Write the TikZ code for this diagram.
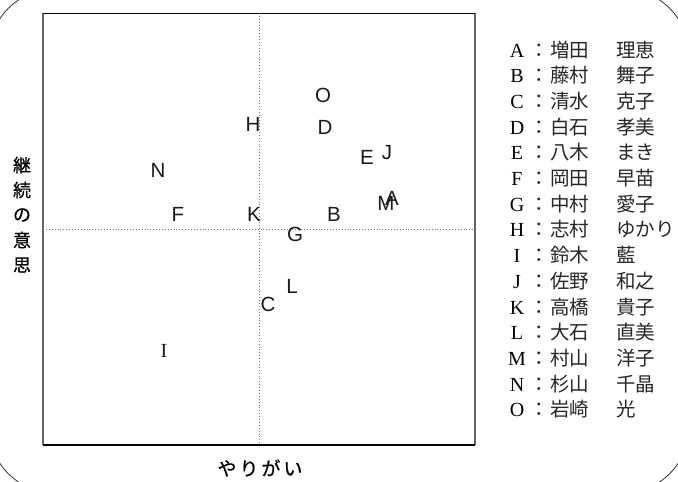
\documentclass[tikz,border=0pt]{standalone}
\usepackage{fontspec}
\newfontfamily\jpfont{Noto Sans CJK JP}
\newfontfamily\jpaxisfont[FakeBold=0.6]{Noto Sans CJK JP}
\newfontfamily\plotfont{Liberation Sans}
\newfontfamily\keyfont{Liberation Serif}
\usetikzlibrary{calc}

\begin{document}
\begin{tikzpicture}[x=1pt, y=-1pt,
  member/.style={font=\plotfont\fontsize{20.5}{22}\selectfont, inner sep=0, text=black!90},
  keyletter/.style={font=\keyfont\fontsize{20}{22}\selectfont, inner sep=0, anchor=base},
  keyname/.style={font=\jpfont\fontsize{19.5}{22}\selectfont, inner sep=0, anchor=base west, text=black!85},
  axislabel/.style={font=\jpaxisfont\fontsize{19}{22}\selectfont, inner sep=0}]
\useasboundingbox (0,0) rectangle (678,482);
% outer frame
\draw[black!80, line width=0.8pt, rounded corners=66pt] (-11,-11) rectangle (689,493);
% plot area
\coordinate (nw) at (43,13);
\coordinate (se) at (475,445);
\draw[black!60, line width=1.8pt] (nw) -- (nw |- se);
\draw[black!60, line width=1.4pt] (se) -- (se |- nw);
\draw[black, line width=1pt] (nw) -- (se |- nw);
\draw[black, line width=1.3pt] (nw |- se) -- (se);
\draw[black!55, dotted, line width=0.9pt] ($(nw)!.5!(se |- nw)$) -- ($(nw |- se)!.5!(se)$);
\draw[black!55, dotted, line width=0.9pt] ($(nw)!.5!(nw |- se)$) -- ($(se |- nw)!.5!(se)$);
% members
\foreach \m/\x/\y in {A/392/198, B/334/214, C/268/304, D/325/127, E/367/157, F/178/214, G/295/234,
  H/253/124, J/387/153, K/254/214, L/292/286, M/386/203, N/158/170, O/323/95} {
  \node[member] (\m) at (\x,\y) {\m};
}
\node[member, font=\keyfont\fontsize{20}{22}\selectfont] (I) at (164,351) {I};
% key
\foreach \m/\fam/\giv [count=\i from 0] in {A/増田/理恵, B/藤村/舞子, C/清水/克子, D/白石/孝美,
  E/八木/まき, F/岡田/早苗, G/中村/愛子, H/志村/ゆかり, I/鈴木/藍, J/佐野/和之, K/高橋/貴子,
  L/大石/直美, M/村山/洋子, N/杉山/千晶, O/岩崎/光} {
  \node[keyletter] (key\m) at (517,57+25.7*\i) {\m};
  \node[keyname, anchor=base] (colon\m) at (539,57+25.7*\i) {：};
  \node[keyname] (fam\m) at (550,57+25.7*\i) {\fam};
  \node[keyname] (giv\m) at (616,57+25.7*\i) {\giv};
}
% axis labels
\node[axislabel] (xlabel) at (260,468) {や\hspace{3pt}り\hspace{3pt}が\hspace{3pt}い};
\foreach \c [count=\i from 0] in {継,続,の,意,思} {
  \node[axislabel, font=\jpaxisfont\fontsize{18}{20}\selectfont] (ylabel\i) at (22,165+25*\i) {\c};
}
\end{tikzpicture}
\end{document}
